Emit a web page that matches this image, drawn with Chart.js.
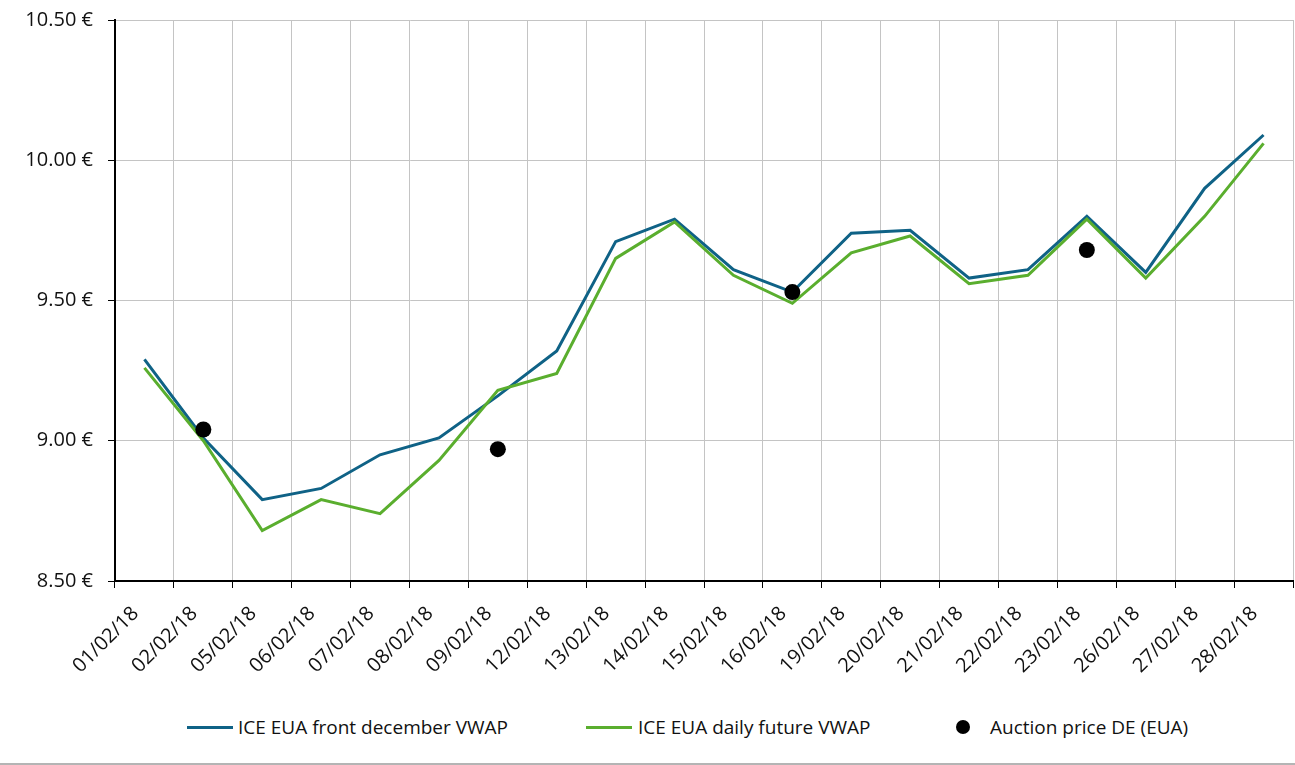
<!DOCTYPE html>
<html>
<head>
<meta charset="utf-8">
<script src="https://cdn.jsdelivr.net/npm/chart.js@4.4.1/dist/chart.umd.min.js"></script>
<style>
    body { margin: 0; background: #fff; font-family: "Open Sans", sans-serif; overflow: hidden; }
    #wrap { position: relative; width: 1295px; height: 765px; overflow: hidden; }
    #chartBox { position: absolute; left: 0; top: 0; width: 1301px; height: 700px; }
    .legendItem { position: absolute; top: 715px; font-size: 19px; color: #111; line-height: 24px; white-space: nowrap; }
    .swatch { position: absolute; top: 11px; width: 46px; height: 3px; }
    .dot { position: absolute; top: 5px; width: 14px; height: 14px; border-radius: 50%; background: #000; }
    #bottomRule { position: absolute; left: 0; top: 763px; width: 1295px; height: 2px; background: #b4b4b4; }
</style>
</head>
<body>
<div id="wrap">
    <div id="chartBox"><canvas id="priceChart"></canvas></div>
    <div class="legendItem" style="left:187px;"><span class="swatch" style="left:0;background:#0f6286;"></span><span style="margin-left:51px;">ICE EUA front december VWAP</span></div>
    <div class="legendItem" style="left:586px;"><span class="swatch" style="left:0;background:#5aae2e;"></span><span style="margin-left:52px;">ICE EUA daily future VWAP</span></div>
    <div class="legendItem" style="left:956px;"><span class="dot" style="left:0;"></span><span style="margin-left:34px;">Auction price DE (EUA)</span></div>
    <div id="bottomRule"></div>
</div>
<script>
const dates = ['01/02/18', '02/02/18', '05/02/18', '06/02/18', '07/02/18', '08/02/18', '09/02/18', '12/02/18', '13/02/18', '14/02/18',
    '15/02/18', '16/02/18', '19/02/18', '20/02/18', '21/02/18', '22/02/18', '23/02/18', '26/02/18', '27/02/18', '28/02/18'];

const frontDecember = [9.29, 9.01, 8.79, 8.83, 8.95, 9.01, 9.16, 9.32, 9.71, 9.79,
    9.61, 9.53, 9.74, 9.75, 9.58, 9.61, 9.80, 9.60, 9.90, 10.09];

const dailyFuture = [9.26, 9.00, 8.68, 8.79, 8.74, 8.93, 9.18, 9.24, 9.65, 9.78,
    9.59, 9.49, 9.67, 9.73, 9.56, 9.59, 9.79, 9.58, 9.80, 10.06];

const auctionPrice = [null, 9.04, null, null, null, null, 8.97, null, null, null,
    null, 9.53, null, null, null, null, 9.68, null, null, null];

const yTicks = [8.5, 9.0, 9.5, 10.0, 10.5];

const ctx = document.getElementById('priceChart').getContext('2d');
const priceChart = new Chart(ctx, {
    type: 'line',
    data: {
        labels: dates,
        datasets: [{
            label: 'Auction price DE (EUA)',
            data: auctionPrice,
            showLine: false,
            pointRadius: 8,
            pointBackgroundColor: '#000',
            pointBorderWidth: 0,
            order: 0
        }, {
            label: 'ICE EUA front december VWAP',
            data: frontDecember,
            borderColor: '#0f6286',
            backgroundColor: '#0f6286',
            borderWidth: 3,
            pointRadius: 0,
            tension: 0,
            order: 2
        }, {
            label: 'ICE EUA daily future VWAP',
            data: dailyFuture,
            borderColor: '#5aae2e',
            backgroundColor: '#5aae2e',
            borderWidth: 3,
            pointRadius: 0,
            tension: 0,
            order: 1
        }]
    },
    options: {
        responsive: true,
        maintainAspectRatio: false,
        animation: false,
        layout: { padding: { top: 19, right: 2, left: 0, bottom: 0 } },
        plugins: {
            legend: { display: false },
            tooltip: { enabled: false }
        },
        scales: {
            x: {
                offset: true,
                grid: {
                    offset: true,
                    color: '#c4c4c4',
                    tickColor: '#000',
                    tickLength: 7,
                    lineWidth: 1
                },
                border: { color: '#000', width: 2 },
                ticks: {
                    color: '#111',
                    font: { family: 'Open Sans', size: 20 },
                    autoSkip: false,
                    maxRotation: 45,
                    minRotation: 45,
                    padding: 14,
                    labelOffset: -9
                },
                afterFit: (scale) => { scale.height = 119; }
            },
            y: {
                min: 8.5,
                max: 10.5,
                afterBuildTicks: (scale) => { scale.ticks = yTicks.map(v => ({ value: v })); },
                grid: {
                    color: '#c4c4c4',
                    tickColor: '#000',
                    tickLength: 7,
                    lineWidth: 1
                },
                border: { color: '#000', width: 2 },
                ticks: {
                    color: '#111',
                    font: { family: 'Open Sans', size: 20, lineHeight: 0.5 },
                    padding: 15,
                    callback: (v) => Number(v).toFixed(2) + ' €'
                },
                afterFit: (scale) => { scale.width = 115; }
            }
        }
    }
});
</script>
</body>
</html>
